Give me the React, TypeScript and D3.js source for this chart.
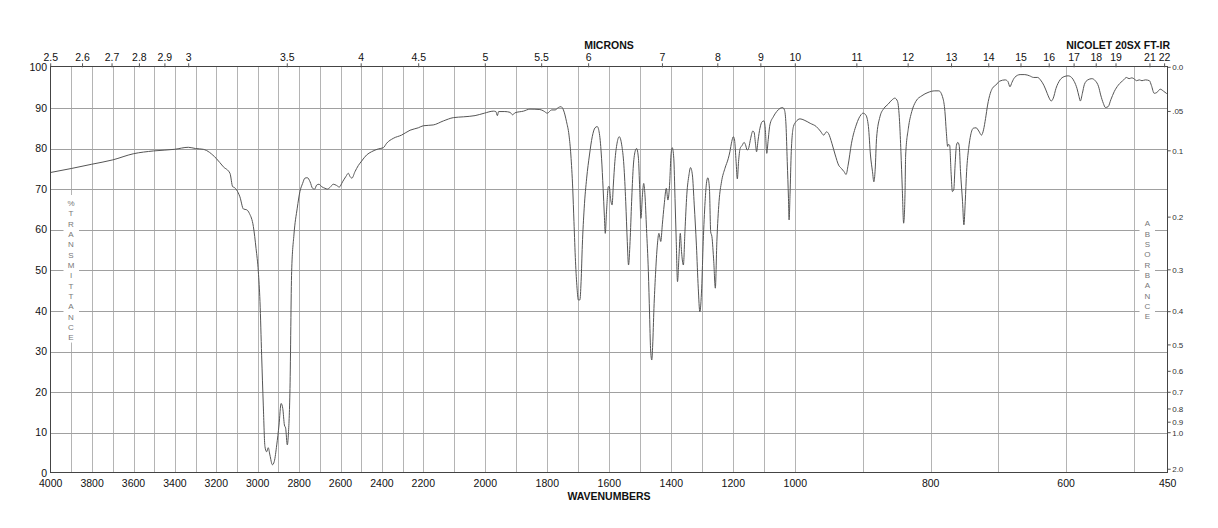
import React from "react";
import * as d3 from "d3";

// ---- Data (wavenumber cm-1, %T) ----
const chRegion: [number, number][] = [
  [4000, 74.1], [3898, 75.1], [3804, 76.1], [3700, 77.2], [3601, 78.7], [3503, 79.4], [3401, 79.8],
  [3335, 80.3], [3301, 80.0], [3263, 79.8], [3201, 77.6], [3166, 75.5], [3134, 73.9], [3121, 70.6],
  [3113, 70.4], [3102, 69.8], [3086, 68.1], [3069, 65.1], [3053, 64.9], [3040, 64.0], [3021, 60.8],
  [3008, 55.4], [2997, 49.7], [2989, 42.3], [2981, 29.1], [2973, 16.8], [2965, 6.6], [2957, 5.3],
  [2949, 6.3], [2941, 4.5], [2929, 2.1], [2920, 2.9], [2908, 7.0], [2897, 11.9], [2887, 17.2],
  [2879, 16.0], [2871, 11.9], [2865, 11.1], [2857, 7.0], [2852, 9.4], [2844, 20.9], [2836, 49.7],
  [2825, 58.7], [2809, 65.3],
];

const midRegion: [number, number][] = [
  [2796, 69.4], [2783, 71.4], [2772, 72.7], [2760, 72.8], [2747, 71.8], [2735, 70.2], [2725, 70.0],
  [2715, 71.0], [2704, 71.2], [2691, 70.6], [2675, 70.2], [2664, 70.0], [2651, 70.4], [2635, 71.2],
  [2619, 70.9], [2606, 70.5], [2590, 71.8], [2574, 73.1], [2562, 73.9], [2554, 73.1], [2545, 72.7],
  [2530, 74.3], [2514, 75.8], [2498, 76.9], [2474, 78.4], [2450, 79.2], [2417, 79.9], [2393, 80.2],
  [2377, 81.3], [2345, 82.5], [2305, 83.3], [2264, 84.5], [2224, 85.1], [2200, 85.6], [2168, 85.8],
  [2135, 86.8], [2103, 87.6], [2071, 87.8], [2033, 88.1], [2003, 88.7], [1974, 89.2], [1966, 89.1],
  [1961, 88.1], [1957, 89.1], [1937, 89.1], [1920, 88.9], [1912, 88.3], [1904, 88.8], [1877, 89.2],
  [1856, 89.7], [1824, 89.6], [1811, 89.2], [1800, 88.7], [1786, 89.5], [1775, 89.5],
];

const fingerprintHigh: [number, number][] = [
  [1764, 90.1], [1756, 90.3], [1748, 89.5], [1738, 86.6], [1730, 83.3], [1724, 78.4], [1718, 70.2],
  [1714, 62.0], [1709, 52.1], [1704, 45.6], [1700, 42.7], [1695, 42.7], [1691, 47.2], [1687, 56.2],
  [1681, 65.3], [1673, 72.7], [1664, 78.4], [1655, 82.9], [1646, 85.1], [1639, 85.4], [1632, 83.7],
  [1625, 77.6], [1620, 70.2], [1616, 63.6], [1613, 59.1], [1609, 64.4], [1603, 70.6], [1600, 70.6],
  [1596, 67.7], [1591, 66.1], [1587, 71.0], [1582, 76.8], [1575, 81.3], [1568, 82.9], [1560, 80.9],
  [1553, 75.9], [1547, 66.9], [1542, 57.1], [1538, 51.3], [1533, 57.1], [1528, 66.9], [1523, 75.1],
  [1517, 79.2], [1512, 80.0], [1506, 77.6], [1502, 70.2], [1498, 62.8], [1493, 68.6], [1489, 71.4],
  [1485, 68.6], [1480, 60.3], [1474, 49.7], [1470, 39.0], [1467, 30.8], [1463, 27.9], [1460, 31.6],
  [1456, 40.6], [1451, 48.9], [1445, 56.2], [1440, 59.1], [1434, 57.1], [1429, 61.2], [1423, 66.1],
  [1416, 70.2], [1411, 67.3], [1405, 71.8], [1401, 78.4], [1397, 80.2], [1392, 77.6], [1388, 67.7],
  [1384, 57.1], [1380, 47.2], [1375, 53.8], [1371, 59.1], [1367, 54.6], [1361, 51.3], [1356, 59.5],
  [1350, 68.6], [1343, 73.5], [1338, 75.3], [1332, 73.5], [1326, 66.1], [1319, 56.2], [1313, 45.6],
  [1308, 39.8], [1302, 45.6], [1297, 57.1], [1291, 66.9], [1286, 71.8], [1282, 72.8], [1277, 70.2],
  [1273, 59.5], [1269, 58.3], [1263, 52.1], [1258, 45.6], [1253, 57.1], [1246, 66.9], [1238, 71.8],
  [1227, 75.1], [1216, 77.6],
];

const fingerprintLow: [number, number][] = [
  [1211, 79.2], [1205, 81.7], [1200, 82.9], [1196, 82.1], [1191, 76.8], [1187, 72.5], [1183, 76.8],
  [1178, 80.0], [1172, 80.7], [1165, 81.5], [1161, 81.0], [1155, 79.6], [1150, 80.2], [1144, 82.5],
  [1137, 84.3], [1133, 84.0], [1128, 80.9], [1125, 79.2], [1120, 82.1], [1114, 85.0], [1107, 86.6],
  [1101, 86.8], [1097, 85.0], [1092, 78.8], [1088, 81.7], [1082, 85.8], [1071, 87.8], [1060, 89.1],
  [1049, 89.9], [1041, 90.1], [1035, 89.5], [1030, 85.8], [1026, 76.8], [1022, 67.7], [1020, 62.4],
  [1017, 68.6], [1013, 79.2], [1006, 85.4], [999, 86.6], [993, 87.3], [987, 87.0], [978, 86.2],
  [969, 85.4], [963, 84.3], [958, 83.3], [954, 84.1], [951, 83.7], [946, 81.3], [941, 78.4],
  [936, 75.9], [932, 75.1], [928, 74.3], [925, 73.6], [922, 75.9], [917, 81.3], [910, 85.8],
  [903, 88.3], [900, 88.7], [896, 88.3], [892, 85.4], [889, 78.4], [886, 74.3], [884, 71.8],
  [882, 74.9], [880, 82.5], [875, 87.8], [869, 89.9], [863, 90.9], [857, 92.0], [853, 92.4],
  [849, 91.6], [846, 86.6], [844, 79.2], [842, 70.2], [840, 61.6], [838, 68.6], [837, 78.4],
  [833, 85.0], [828, 89.1], [822, 91.6], [813, 93.0], [804, 93.8], [794, 94.2], [788, 94.2],
];

const farRegion: [number, number][] = [
  [782, 92.4], [779, 89.1], [777, 84.2], [775, 80.5], [774, 81.0], [772, 80.8], [770, 74.3],
  [768, 69.4], [766, 69.8], [764, 75.9], [762, 80.8], [760, 81.5], [758, 80.8], [756, 74.3],
  [753, 66.9], [751, 61.2], [749, 66.9], [747, 74.3], [744, 80.0], [741, 83.3], [737, 85.0],
  [733, 85.1], [729, 84.3], [725, 83.3], [722, 84.6], [719, 87.4], [716, 90.7], [712, 93.6],
  [709, 94.8], [704, 95.6], [698, 96.6], [690, 96.9], [686, 96.5], [683, 95.2], [680, 96.3],
  [676, 97.5], [668, 98.2], [661, 98.2], [654, 97.9], [648, 97.5], [642, 97.5], [638, 96.9],
  [633, 95.6], [628, 93.6], [625, 92.4], [622, 91.7], [619, 92.4], [615, 94.8], [609, 96.9],
  [603, 97.7], [597, 97.9], [592, 97.5], [588, 96.5], [584, 94.8], [581, 92.8], [579, 91.7],
  [576, 93.6], [573, 95.8], [568, 96.9], [562, 97.2], [557, 96.7], [552, 95.2], [549, 93.2],
  [545, 91.1], [542, 90.1], [538, 90.3], [534, 92.0], [529, 94.0], [523, 95.6], [515, 96.9],
  [511, 97.5], [507, 97.2], [503, 97.4], [500, 97.2], [496, 96.7], [492, 96.9], [488, 96.7],
  [483, 96.9], [477, 96.7], [474, 95.5], [470, 93.6], [466, 93.8], [461, 94.6], [456, 94.1],
  [452, 93.6], [450, 93.3],
];

const wavenumberBreaks = [4000, 2200, 1000, 450];
const wavenumberLabels = [4000, 3800, 3600, 3400, 3200, 3000, 2800, 2600, 2400, 2200, 2000, 1800, 1600, 1400, 1200, 1000, 800, 600, 450];
const micronLabels = [2.5, 2.6, 2.7, 2.8, 2.9, 3, 3.5, 4, 4.5, 5, 5.5, 6, 7, 8, 9, 10, 11, 12, 13, 14, 15, 16, 17, 18, 19, 21, 22];
const transmittanceTicks = [0, 10, 20, 30, 40, 50, 60, 70, 80, 90, 100];
const absorbanceTicks = [0, 0.05, 0.1, 0.2, 0.3, 0.4, 0.5, 0.6, 0.7, 0.8, 0.9, 1.0, 2.0];
const absorbanceLabels = ["0.0", ".05", "0.1", "0.2", "0.3", "0.4", "0.5", "0.6", "0.7", "0.8", "0.9", "1.0", "2.0"];
const leftTitle = "%TRANSMITTANCE".split("");
const rightTitle = "ABSORBANCE".split("");

const W = 1218;
const H = 528;
const LEFT = 50.7;
const RIGHT = 1167.7;
const TOP = 67.3;
const BOTTOM = 473.3;
const FONT = "'Liberation Sans', Arial, Helvetica, sans-serif";

export default function App() {
  if (typeof document !== "undefined") document.body.style.margin = "0";

  const x = d3.scaleLinear().domain(wavenumberBreaks).range([LEFT, 423.3, 795.3, RIGHT]);
  const y = d3.scaleLinear().domain([0, 100]).range([BOTTOM, TOP]);

  const spectrum = [...chRegion, ...midRegion, ...fingerprintHigh, ...fingerprintLow, ...farRegion];
  const line = d3
    .line<[number, number]>()
    .x((d) => x(d[0]))
    .y((d) => y(d[1]))
    .curve(d3.curveMonotoneX);

  const vGrid = d3.range(3900, 499, -100);
  const hGrid = d3.range(10, 100, 10);
  const snap = (v: number) => Math.round(v) + 0.5;

  const leftTextX = 71;
  const leftTextY0 = 203;
  const rightTextX = 1147.3;
  const rightTextY0 = 223.5;
  const step = 10.35;

  return (
    <svg width={W} height={H} style={{ position: "absolute", left: 0, top: 0, background: "#fff" }} fontFamily={FONT}>
      <rect x={0} y={0} width={W} height={H} fill="#fff" />
      {/* grid */}
      <g stroke="#b4b4b4" strokeWidth={1} shapeRendering="crispEdges">
        {vGrid.map((w) => (
          <line key={"v" + w} x1={snap(x(w))} x2={snap(x(w))} y1={TOP} y2={BOTTOM} />
        ))}
        {hGrid.map((t) => (
          <line key={"h" + t} x1={LEFT} x2={RIGHT} y1={snap(y(t))} y2={snap(y(t))} stroke="#a0a0a0" />
        ))}
      </g>
      {/* white backing for vertical titles */}
      <rect x={63.5} y={leftTextY0 - 8} width={15.5} height={step * (leftTitle.length - 1) + 13} fill="#fff" />
      <rect x={1139.5} y={rightTextY0 - 8} width={15.5} height={step * (rightTitle.length - 1) + 13} fill="#fff" />
      <g fill="#777" fontSize={8} textAnchor="middle">
        {leftTitle.map((c, i) => (
          <text key={"l" + i} x={leftTextX} y={leftTextY0 + i * step} dy="0.35em">
            {c}
          </text>
        ))}
        {rightTitle.map((c, i) => (
          <text key={"r" + i} x={rightTextX} y={rightTextY0 + i * step} dy="0.35em">
            {c}
          </text>
        ))}
      </g>
      {/* spectrum */}
      <path d={line(spectrum) || ""} fill="none" stroke="#555" strokeWidth={1} strokeLinejoin="round" />
      {/* frame */}
      <rect x={snap(LEFT) - 1} y={snap(TOP) - 1} width={Math.round(RIGHT - LEFT)} height={Math.round(BOTTOM - TOP)} fill="none" stroke="#444" strokeWidth={1} shapeRendering="crispEdges" />
      {/* left axis labels */}
      <g fontSize={10.5} fill="#111" textAnchor="end">
        {transmittanceTicks.map((t) => (
          <text key={"t" + t} x={47} y={y(t)} dy="0.35em">
            {t}
          </text>
        ))}
      </g>
      {/* right absorbance axis */}
      <g fontSize={8} fill="#333">
        {absorbanceTicks.map((a, i) => {
          const yy = y(100 * Math.pow(10, -a));
          return (
            <g key={"a" + i}>
              <line x1={RIGHT} x2={RIGHT + 3} y1={yy} y2={yy} stroke="#555" />
              <text x={RIGHT + 4.5} y={yy} dy="0.35em">
                {absorbanceLabels[i]}
              </text>
            </g>
          );
        })}
      </g>
      {/* bottom wavenumber labels */}
      <g fontSize={10.5} fill="#111" textAnchor="middle">
        {wavenumberLabels.map((w) => (
          <text key={"w" + w} x={x(w)} y={487}>
            {w}
          </text>
        ))}
      </g>
      {/* top micron axis */}
      <g fontSize={10.5} fill="#111" textAnchor="middle">
        {micronLabels.map((m) => {
          const xx = x(10000 / m);
          return (
            <g key={"m" + m}>
              <line x1={xx} x2={xx} y1={TOP - 4} y2={TOP} stroke="#555" />
              <text x={xx} y={61}>
                {m}
              </text>
            </g>
          );
        })}
      </g>
      {/* titles */}
      <g fontSize={10.5} fontWeight="bold" fill="#111">
        <text x={609} y={49} textAnchor="middle">MICRONS</text>
        <text x={1170} y={49} textAnchor="end">NICOLET 20SX FT-IR</text>
        <text x={609} y={500} textAnchor="middle">WAVENUMBERS</text>
      </g>
    </svg>
  );
}
